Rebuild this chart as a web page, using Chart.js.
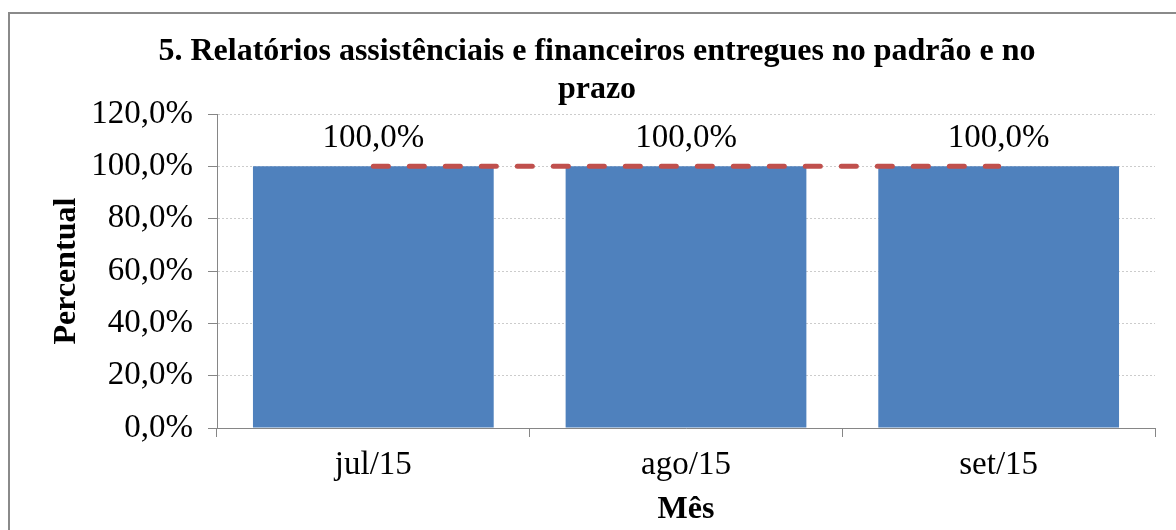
<!DOCTYPE html>
<html lang="pt">
<head>
  <meta charset="UTF-8">
  <title>Relatórios assistênciais e financeiros</title>
  <script src="https://cdn.jsdelivr.net/npm/chart.js"></script>
  <style>
    html, body {
      margin: 0;
      padding: 0;
      background: #fff;
      overflow: hidden;
    }
    .wrap {
      position: relative;
      width: 1176px;
      height: 530px;
    }
    .frame {
      position: absolute;
      left: 8px;
      top: 12px;
      width: 1300px;
      height: 700px;
      border: 2px solid #8a8a8a;
      pointer-events: none;
    }
  </style>
</head>
<body>
<div class="wrap">
  <canvas id="chart" width="1176" height="530"></canvas>
  <div class="frame"></div>
</div>

<script>
  // data
  const months = ["jul/15", "ago/15", "set/15"];
  const delivered = [100, 100, 100];
  const target = [100, 100, 100];
  const yTicks = [0, 20, 40, 60, 80, 100, 120];

  const serif = "'Liberation Serif', 'Times New Roman', serif";
  const pct = v => v.toFixed(1).replace(".", ",") + "%";

  // labels on top of the bars
  const barLabels = {
    id: "barLabels",
    afterDatasetsDraw(chart) {
      const meta = chart.getDatasetMeta(1);
      const ctx = chart.ctx;
      ctx.save();
      ctx.font = "33px " + serif;
      ctx.fillStyle = "#000";
      ctx.textAlign = "center";
      ctx.textBaseline = "middle";
      meta.data.forEach((bar, i) => {
        ctx.fillText(pct(delivered[i]), bar.x, bar.y - 28);
      });
      ctx.restore();
    }
  };

  new Chart(document.getElementById("chart"), {
    data: {
      labels: months,
      datasets: [
        {
          type: "line",
          label: "Meta",
          data: target,
          borderColor: "#C0504D",
          borderWidth: 5,
          borderDash: [15, 21],
          borderCapStyle: "round",
          pointRadius: 0,
          fill: false,
          order: 0
        },
        {
          type: "bar",
          label: "Percentual",
          data: delivered,
          backgroundColor: "#4F81BD",
          barPercentage: 0.77,
          categoryPercentage: 1,
          order: 1
        }
      ]
    },
    options: {
      responsive: false,
      animation: false,
      layout: {
        padding: { top: 33, left: 39, right: 21, bottom: 0 }
      },
      plugins: {
        legend: { display: false },
        tooltip: { enabled: false },
        title: {
          display: true,
          text: ["5. Relatórios assistênciais e financeiros entregues no padrão e no", "prazo"],
          color: "#000",
          font: { family: serif, size: 32, weight: "bold", lineHeight: 1.1875 },
          padding: { top: 0, bottom: 5 }
        }
      },
      scales: {
        x: {
          grid: {
            display: true,
            drawOnChartArea: false,
            drawTicks: true,
            tickLength: 9,
            tickColor: "#868686",
            offset: true
          },
          border: { display: true, color: "#868686", width: 1 },
          ticks: {
            color: "#000",
            font: { family: serif, size: 33 },
            padding: 9
          },
          title: {
            display: true,
            text: "Mês",
            color: "#000",
            font: { family: serif, size: 32, weight: "bold", lineHeight: 1.2 },
            padding: { top: 0, bottom: 1 }
          },
          afterFit(scale) { scale.height = 102; }
        },
        y: {
          min: 0,
          max: 120,
          afterBuildTicks(scale) {
            scale.ticks = yTicks.map(v => ({ value: v }));
          },
          grid: {
            color: "#cccccc",
            drawTicks: true,
            tickLength: 9,
            tickColor: "#868686",
            tickBorderDash: []
          },
          border: { display: true, color: "#868686", width: 1, dash: [2, 2] },
          ticks: {
            color: "#000",
            font: { family: serif, size: 33 },
            padding: 15,
            callback: v => pct(v)
          },
          title: {
            display: true,
            text: "Percentual",
            color: "#000",
            font: { family: serif, size: 32, weight: "bold", lineHeight: 1.2 },
            padding: { top: 9, bottom: 0 }
          },
          afterFit(scale) { scale.width = 178; }
        }
      }
    },
    plugins: [barLabels]
  });
</script>
</body>
</html>
